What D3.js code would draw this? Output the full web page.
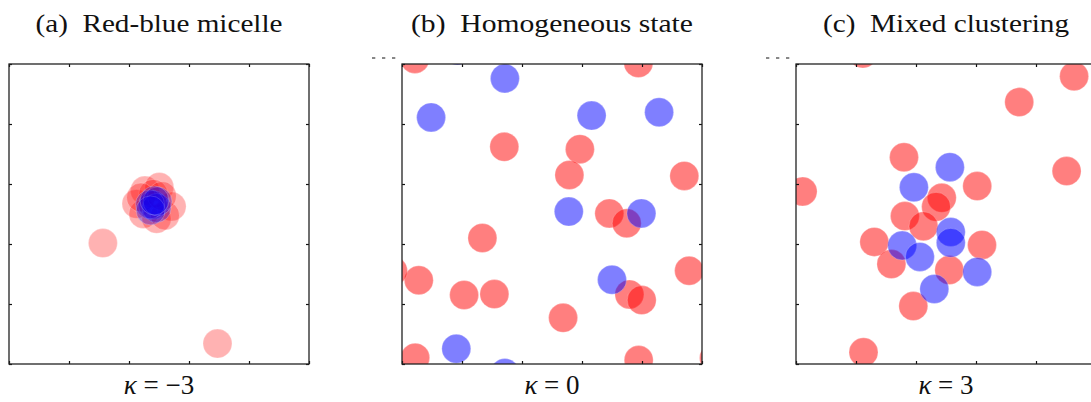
<!DOCTYPE html>
<html>
<head>
<meta charset="utf-8">
<script src="https://cdn.jsdelivr.net/npm/d3@7"></script>
<style>
  body { margin: 0; background: #fff; }
  svg { display: block; }
  .axis path { display: none; }
  .axis line { stroke: #111; stroke-width: 1.2; }
</style>
</head>
<body>
<svg id="chart" width="1091" height="402"></svg>
<script>
// box is 10 x 10 (particle diameter = 1)
var titles = ["(a)\u2002Red-blue micelle", "(b)\u2002Homogeneous state", "(c)\u2002Mixed clustering"];
var titleWidths = [247, 282, 246];
var kappas = ["\u22123", "0", "3"];
var tickValues = [0, 2, 4, 6, 8, 10];

// panel (a): kappa = -3
var redA = [[3.13, 4.03], [6.95, 0.68], [4.53, 5.78], [5.01, 5.9], [4.25, 5.34], [5.42, 5.25],
  [4.92, 4.84], [4.48, 5.0], [5.2, 4.95], [4.81, 5.67], [4.4, 5.55], [5.1, 5.6]];
var blueA = [[4.8, 5.3], [4.92, 5.2], [4.7, 5.32], [4.95, 5.42], [4.72, 5.12], [4.85, 5.45]];

// panel (b): kappa = 0
var redB = [[0.43, 10.17], [7.88, 10.03], [3.41, 7.24], [5.93, 7.16], [5.58, 6.3], [9.41, 6.27],
  [6.91, 5.02], [7.49, 4.69], [2.68, 4.2], [9.57, 3.11], [0.56, 2.79], [-0.3, 3.1],
  [2.07, 2.3], [3.08, 2.33], [7.58, 2.32], [7.99, 2.13], [5.37, 1.54], [0.44, 0.21],
  [7.89, 0.13], [10.4, 0.2]];
var blueB = [[3.43, 9.52], [0.97, 8.22], [6.32, 8.28], [8.57, 8.39], [5.56, 5.08], [7.98, 5.02],
  [7.0, 2.81], [1.81, 0.51], [3.43, -0.3], [1.85, 10.45]];

// panel (c): kappa = 3
var redC = [[2.23, 10.35], [9.27, 9.59], [7.44, 8.73], [3.6, 6.89], [9.02, 6.43], [0.22, 5.75],
  [6.04, 5.93], [4.86, 5.54], [4.67, 5.24], [3.63, 4.93], [4.25, 4.59], [2.61, 4.07],
  [6.2, 3.97], [3.18, 3.33], [5.11, 3.13], [3.91, 1.93], [2.25, 0.39], [10.35, 5.75]];
var blueC = [[5.13, 6.56], [3.93, 5.89], [5.16, 4.4], [5.16, 4.04], [3.54, 3.95], [4.13, 3.57],
  [6.04, 3.07], [4.61, 2.5]];

var panels = [
  {red: redA, blue: blueA, alpha: 0.3, dashes: false},
  {red: redB, blue: blueB, alpha: 0.5, dashes: true},
  {red: redC, blue: blueC, alpha: 0.5, dashes: true}
];

(function() {
  var svg = d3.select("#chart"),
    size = 300,
    boxTop = 64,
    lefts = [9, 402, 796],
    serif = "'Liberation Serif', 'Times New Roman', 'DejaVu Serif', serif";

  var x = d3.scaleLinear().domain([0, 10]).range([0, size]),
    y = d3.scaleLinear().domain([0, 10]).range([size, 0]),
    r = x(0.5) - x(0);

  panels.forEach(function(p, i) {
    var g = svg.append("g").attr("transform", "translate(" + lefts[i] + "," + boxTop + ")");

    g.append("clipPath").attr("id", "clip" + i)
      .append("rect").attr("width", size).attr("height", size);

    var dots = g.append("g").attr("clip-path", "url(#clip" + i + ")");

    function drawDots(data, color) {
      dots.selectAll(null)
        .data(data)
        .enter().append("circle")
        .attr("cx", function(d) { return x(d[0]); })
        .attr("cy", function(d) { return y(d[1]); })
        .attr("r", r - 0.5)
        .attr("fill", color)
        .attr("fill-opacity", p.alpha)
        .attr("stroke", "#fff")
        .attr("stroke-opacity", 0.25)
        .attr("stroke-width", 1);
    }
    drawDots(p.red, "#ff0000");
    drawDots(p.blue, "#0000ff");

    // ticks on all four sides, pointing inward
    g.append("g").attr("class", "axis").attr("transform", "translate(0," + size + ")")
      .call(d3.axisBottom(x).tickValues(tickValues).tickSize(-3).tickFormat(""));
    g.append("g").attr("class", "axis")
      .call(d3.axisTop(x).tickValues(tickValues).tickSize(-3).tickFormat(""));
    g.append("g").attr("class", "axis")
      .call(d3.axisLeft(y).tickValues(tickValues).tickSize(-3).tickFormat(""));
    g.append("g").attr("class", "axis").attr("transform", "translate(" + size + ",0)")
      .call(d3.axisRight(y).tickValues(tickValues).tickSize(-3).tickFormat(""));

    g.append("rect")
      .attr("width", size).attr("height", size)
      .attr("fill", "none").attr("stroke", "#222").attr("stroke-width", 1.3);

    if (p.dashes) {
      // leftover tick marks peeking out above the frame
      g.append("line")
        .attr("x1", -30).attr("x2", -6).attr("y1", -6).attr("y2", -6)
        .attr("stroke", "#111").attr("stroke-width", 1)
        .attr("stroke-dasharray", "3.3,6.7");
    }

    g.append("text")
      .attr("x", size / 2).attr("y", -32)
      .attr("text-anchor", "middle")
      .style("font-family", serif)
      .attr("font-size", 26)
      .attr("fill", "#111")
      .attr("textLength", titleWidths[i])
      .attr("lengthAdjust", "spacingAndGlyphs")
      .text(titles[i]);

    var kl = g.append("text")
      .attr("x", size / 2).attr("y", 330)
      .attr("text-anchor", "middle")
      .style("font-family", serif)
      .attr("font-size", 27)
      .attr("fill", "#111");
    kl.append("tspan").attr("font-style", "italic").text("\u03ba");
    kl.append("tspan").text(" = " + kappas[i]);
  });
})();
</script>
</body>
</html>
